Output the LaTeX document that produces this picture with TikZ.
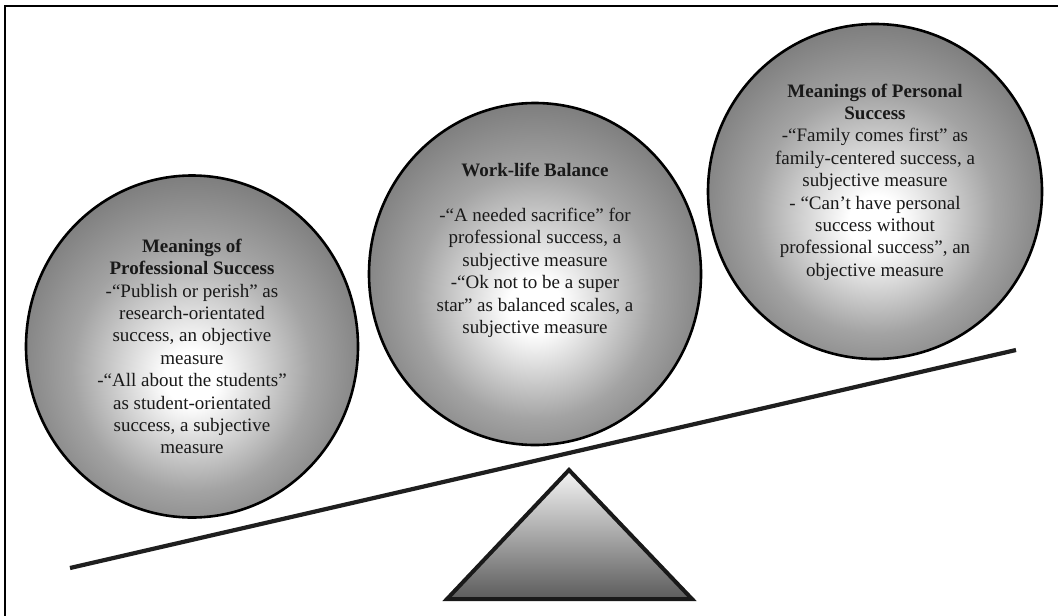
\documentclass[tikz,border=0pt]{standalone}
\usepackage{fontspec}
\setmainfont{Liberation Serif}
\usepackage{tikz}
\usetikzlibrary{positioning, shapes.geometric}

\pgfdeclareradialshading{ballshade}{\pgfpoint{0bp}{-5bp}}{color(0bp)=(white); color(4bp)=(white); color(18bp)=(black!36); color(32bp)=(black!58); color(50bp)=(black!68)}

\begin{document}
\begin{tikzpicture}[
    x=1pt, y=-1pt,
    ball/.style={ellipse, draw=black, line width=2.6pt, shading=ballshade,
                 minimum width=332pt, minimum height=342pt, inner sep=0pt},
    balltext/.style={align=center, text=black!90, font=\fontsize{19}{22.4}\selectfont},
    beam/.style={line width=4.2pt, draw=black!88},
    pivot/.style={line width=4pt, draw=black!90, line join=miter,
                  top color=black!4, bottom color=black!64}
]
\useasboundingbox (0,0) rectangle (1058,616);
\draw[line width=2pt] (5,620) -- (5,6) -- (1062,6);

\node[ball] (prof) at (192,346.5) {};
\node[ball] (work) at (535,274) {};
\node[ball, minimum width=334pt, minimum height=335pt] (pers) at (875,191.5) {};

\node[balltext] (proftxt) at (prof) {\textbf{Meanings of}\\\textbf{Professional Success}\\
  -“Publish or perish” as\\research-orientated\\success, an objective\\measure\\
  -“All about the students”\\as student-orientated\\success, a subjective\\measure};
\node[balltext] (worktxt) at ([yshift=23.5pt]work.center) {\textbf{Work-life Balance}\\[22.4pt]
  -“A needed sacrifice” for\\professional success, a\\subjective measure\\
  -“Ok not to be a super\\star” as balanced scales, a\\subjective measure};
\node[balltext] (perstxt) at ([yshift=9.5pt]pers.center) {\textbf{Meanings of Personal}\\\textbf{Success}\\
  -“Family comes first” as\\family-centered success, a\\subjective measure\\
  - “Can’t have personal\\success without\\professional success”, an\\objective measure};

\coordinate (beamL) at (70,568);
\coordinate (beamR) at (1016,350);
\draw[beam] (beamL) -- (beamR);

\coordinate (apex) at (569,470);
\coordinate (baseL) at (447,599);
\coordinate (baseR) at (692,599);
\draw[pivot] (apex) -- (baseR) -- (baseL) -- cycle;
\end{tikzpicture}
\end{document}
